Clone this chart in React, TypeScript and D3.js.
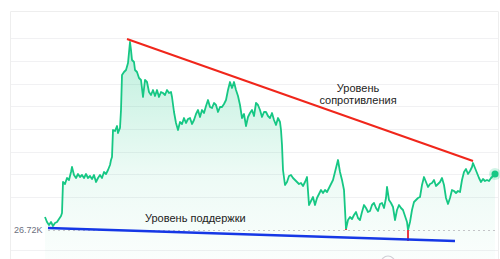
import React from "react";
import * as d3 from "d3";

// time index (hours from start) and price (USD)
const hours = [0,2,4,6,8,10,12,14,16,17,18,20,22,24,26,27,29,31,33,35,37,39,41,43,45,47,49,51,53,55,57,59,61,63,65,66,67,68,70,72,73,75,76,77,79,81,83,85,86,87,89,90,92,94,96,98,100,102,104,106,108,110,112,114,116,118,120,122,124,126,127,129,131,133,135,137,139,141,143,145,147,149,151,153,155,157,159,161,163,165,167,169,171,173,175,177,179,181,183,185,187,189,191,193,195,197,199,201,203,205,207,209,211,213,215,217,219,221,223,225,227,229,231,233,235,236,237,238,240,242,244,246,248,250,252,254,256,258,260,262,264,266,268,270,272,274,276,278,280,282,284,286,288,290,292,293,295,297,299,301,303,305,307,309,311,313,315,317,319,321,323,325,327,329,331,333,335,337,339,341,342,344,346,348,350,352,354,356,358,360,362,363,365,367,369,371,373,375,377,379,381,383,385,387,389,391,393,395,397,399,401,403,405,407,409,411,413,415,417,419,421,423,425,427,428,430,432,434,436,438,440,442,444,446,448,450];
const prices = [27006,26896,26830,26896,26808,26874,26896,26962,27028,27094,27776,27732,27864,27820,27996,28106,27930,27864,27952,27886,27930,27864,27952,27864,27908,27842,27930,27776,27864,27930,27864,27996,27952,28040,28150,28260,28326,28920,28898,29008,28854,28964,29360,30130,30196,30240,30394,30856,30680,30460,30416,30240,30196,30064,30020,29646,30020,29976,29756,29690,29800,29668,29800,29646,29756,29734,29690,29800,29734,29756,29646,29316,29074,28920,29096,29052,29184,29074,29162,29184,29052,29140,29272,29360,29206,29360,29294,29448,29580,29426,29404,29514,29470,29316,29426,29426,29492,29580,29800,29976,29844,29976,29800,29668,29470,29184,29272,29008,29206,29294,29360,29228,29514,29470,29360,29206,29316,29316,29228,29184,29294,29140,29030,29184,29096,28920,28590,28040,27710,27776,27908,27930,27864,27820,27776,27732,27754,27688,27776,27886,27270,27358,27446,27270,27424,27512,27600,27534,27600,27556,27644,27732,27820,27996,28172,28260,27996,27820,27600,26742,26940,27006,26962,27050,27116,26984,26940,27116,27270,27204,27116,27138,27270,27314,27204,27138,27292,27314,27204,27424,27666,27380,27314,27226,26940,27160,27270,27204,27160,27028,26896,26720,26896,27160,27336,27380,27424,27446,27710,27886,27776,27666,27732,27754,27820,27688,27732,27776,27864,27710,27424,27292,27424,27600,27578,27534,27578,27556,27820,27996,28062,27952,28018,28106,28194,28084,27974,27864,27776,27842,27798,27820,27798,27864,27908,27952];

const lowLabel = "26.72K";
const lowPrice = 26720;
// trend lines [hour, price]
const resistance = [[82, 30922], [428, 28238]];
const support = [[3, 26764], [410, 26478]];
// red markers touching support: [hour, fromPrice, toPrice]
const touches = [[301, 26742, 26720], [363, 26720, 26480]];
const gridPrices = [30944, 30438, 29932, 29448, 28942, 28436, 27952, 27446, 26280];
const resistanceLabel = ["Уровень", "сопротивления"];
const supportLabel = "Уровень поддержки";

const W = 500, H = 259;
const GREEN = "#16c784";

export default function App() {
  const x = d3.scaleLinear().domain([0, 450]).range([45, 495]);
  const y = d3.scaleLinear().domain([lowPrice, 30878]).range([230, 41]);
  const pts = hours.map((h, i) => [h, prices[i]] as [number, number]);
  const line = d3.line<[number, number]>().x(d => x(d[0])).y(d => y(d[1]));
  const area = d3.area<[number, number]>().x(d => x(d[0])).y0(H).y1(d => y(d[1]));
  const last = pts[pts.length - 1];
  return (
    <svg width={W} height={H} style={{ position: "absolute", left: 0, top: 0, background: "#fff" }}
      fontFamily="'Liberation Sans', Arial, sans-serif">
      <defs>
        <linearGradient id="fillg" x1="0" y1="0" x2="0" y2="1" gradientUnits="objectBoundingBox">
          <stop offset="0" stopColor={GREEN} stopOpacity={0.28} />
          <stop offset="0.6" stopColor={GREEN} stopOpacity={0.08} />
          <stop offset="1" stopColor={GREEN} stopOpacity={0.02} />
        </linearGradient>
      </defs>
      {/* panel */}
      <path d={`M10.5,${H} V11.5 H498.5 V${H}`} fill="none" stroke="#eeeeee" />
      {gridPrices.map((g, i) => (
        <line key={i} x1={11} x2={498} y1={Math.round(y(g)) + 0.5} y2={Math.round(y(g)) + 0.5} stroke="#f1f1f3" />
      ))}
      <path d={area(pts) || ""} fill="url(#fillg)" />
      <line x1={48} x2={498} y1={y(lowPrice) + 0.5} y2={y(lowPrice) + 0.5} stroke="#c4c4c8" strokeDasharray="2,3" />
      <path d={line(pts) || ""} fill="none" stroke={GREEN} strokeWidth={1.8} strokeLinejoin="round" />
      {touches.map((t, i) => (
        <line key={i} x1={x(t[0])} x2={x(t[0])} y1={y(t[1])} y2={y(t[2])} stroke="#ea3943" strokeWidth={2} />
      ))}
      <line x1={x(resistance[0][0])} y1={y(resistance[0][1])} x2={x(resistance[1][0])} y2={y(resistance[1][1])}
        stroke="#f0261b" strokeWidth={2} />
      <line x1={x(support[0][0])} y1={y(support[0][1])} x2={x(support[1][0])} y2={y(support[1][1])}
        stroke="#1537e6" strokeWidth={2.5} />
      <circle cx={x(last[0])} cy={y(last[1])} r={6} fill={GREEN} opacity={0.2} />
      <circle cx={x(last[0])} cy={y(last[1])} r={3.5} fill={GREEN} />
      <text x={14} y={233} fontSize={9} fill="#6c6f80">{lowLabel}</text>
      <text textAnchor="middle" fontSize={11} fill="#222">
        <tspan x={358} y={92}>{resistanceLabel[0]}</tspan>
        <tspan x={358} y={104}>{resistanceLabel[1]}</tspan>
      </text>
      <text x={145} y={222} fontSize={11} fill="#222">{supportLabel}</text>
      <circle cx={388} cy={263} r={7} fill="none" stroke="#cfcfd6" strokeWidth={1.2} />
    </svg>
  );
}
